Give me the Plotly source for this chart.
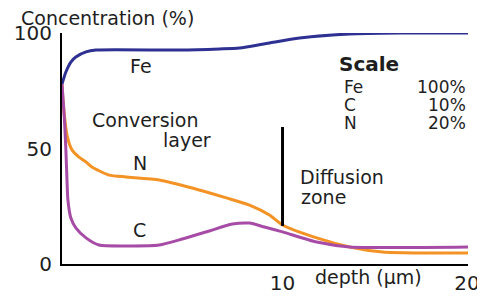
import plotly.graph_objects as go

# depth (µm) and concentration values
fe_x = [-1.95, -1.74, -1.47, -1.20, -0.65, -0.11, 4.40, 6.58, 7.66, 9.29, 10.92, 13.64, 16.36, 20.05]
fe_y = [77.9, 83.1, 87.4, 89.6, 91.8, 92.6, 92.6, 93.1, 93.5, 95.7, 97.8, 99.6, 100, 100]

n_x = [-1.95, -1.90, -1.79, -1.68, -1.41, -1.03, -0.65, -0.33, 0.60, 1.52, 3.32, 5.11, 6.96, 8.21, 9.29, 10.0, 11.85, 13.64, 15.43, 17.28, 20.05]
n_y = [77.9, 71.0, 62.3, 55.8, 49.4, 46.3, 44.2, 42.0, 38.5, 37.7, 36.4, 32.9, 28.6, 25.5, 21.2, 16.9, 11.3, 7.4, 5.2, 4.8, 4.8]

c_x = [-1.95, -1.85, -1.79, -1.74, -1.68, -1.63, -1.47, -1.20, -0.65, 0.05, 1.85, 3.32, 4.57, 6.03, 7.28, 8.21, 9.02, 10.0, 11.85, 13.64, 20.05]
c_y = [77.9, 66.7, 58.0, 49.4, 36.4, 27.7, 19.9, 15.6, 11.3, 8.2, 7.8, 8.2, 10.8, 14.3, 17.3, 17.7, 16.0, 13.9, 9.5, 7.4, 7.4]

boundary_x = [10.0, 10.0]
boundary_y = [16.5, 59.3]

y_ticks = [0, 50, 100]
x_ticks = [10, 20]
x_tick_labels = ["10", "20"]

scale_names = ["Fe", "C", "N"]
scale_values = ["100%", "10%", "20%"]

FONT = "DejaVu Sans"
TXT = "#1e1e1e"
FE_C = "#2E3192"
N_C = "#F39325"
C_C = "#A64CA6"

fig = go.Figure()
fig.add_trace(go.Scatter(x=fe_x, y=fe_y, mode="lines", line=dict(color=FE_C, width=3, shape="spline", smoothing=0.6), hoverinfo="skip"))
fig.add_trace(go.Scatter(x=n_x, y=n_y, mode="lines", line=dict(color=N_C, width=3, shape="spline", smoothing=0.6), hoverinfo="skip"))
fig.add_trace(go.Scatter(x=c_x, y=c_y, mode="lines", line=dict(color=C_C, width=3, shape="spline", smoothing=0.6), hoverinfo="skip"))
fig.add_trace(go.Scatter(x=boundary_x, y=boundary_y, mode="lines", line=dict(color="black", width=3), hoverinfo="skip"))

ann = []
def label(text, x, y, size=19, xanchor="center", xref="x", yref="y", bold=False):
    if bold:
        text = "<b>" + text + "</b>"
    ann.append(dict(text=text, x=x, y=y, xref=xref, yref=yref, xanchor=xanchor, yanchor="middle",
                    showarrow=False, font=dict(family=FONT, size=size, color=TXT)))

label("Concentration (%)", 0.111, 1.066, xref="paper", yref="paper")
label("Fe", 2.35, 85.7)
label("Conversion", 2.6, 62.3)
label("layer", 4.8, 53.6)
label("N", 2.3, 43.7)
label("C", 2.25, 14.7)
label("Diffusion", 13.2, 37.6)
label("zone", 12.2, 29.0)
label("depth (µm)", 0.754, -0.056, xref="paper", yref="paper")
label("Scale", 14.7, 86.6, size=20, bold=True)
for i, (nm, val) in enumerate(zip(scale_names, scale_values)):
    yy = 76.6 - i * 7.8
    label(nm, 13.2, yy, size=17, xanchor="left")
    label(val, 20.05, yy, size=17, xanchor="right")

fig.update_layout(
    width=485, height=296,
    margin=dict(l=54, r=25, t=25, b=40),
    paper_bgcolor="white", plot_bgcolor="white",
    showlegend=False,
    annotations=ann,
    xaxis=dict(range=[-1.95, 20.05], tickvals=x_ticks, ticktext=x_tick_labels, showgrid=False, zeroline=False,
               automargin=False, showline=True, linecolor="black", linewidth=2, ticks="",
               tickfont=dict(family=FONT, size=20, color=TXT)),
    yaxis=dict(range=[0, 100], tickvals=y_ticks, showgrid=False, zeroline=False, automargin=False,
               showline=True, linecolor="black", linewidth=2, ticks="", ticklabelstandoff=4,
               tickfont=dict(family=FONT, size=20, color=TXT)),
)
fig.write_html("out.html")
